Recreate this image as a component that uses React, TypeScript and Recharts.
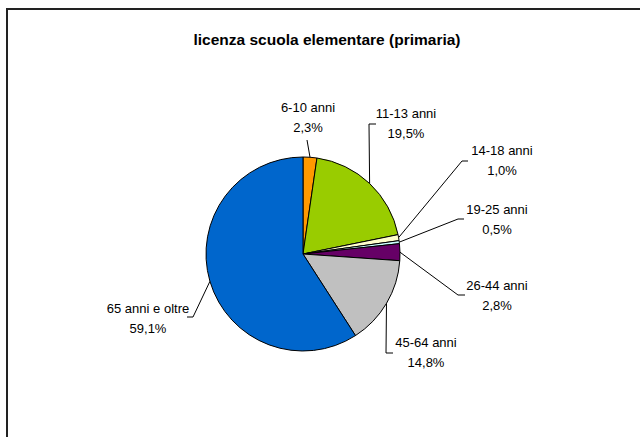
import React from "react";
import { PieChart, Pie, Cell } from "recharts";

const categories = ["6-10 anni", "11-13 anni", "14-18 anni", "19-25 anni", "26-44 anni", "45-64 anni", "65 anni e oltre"];
const shares = [2.3, 19.5, 1.0, 0.5, 2.8, 14.8, 59.1];
const shareLabels = ["2,3%", "19,5%", "1,0%", "0,5%", "2,8%", "14,8%", "59,1%"];
const title = "licenza scuola elementare (primaria)";

const colors = ["#FF9900", "#99CC00", "#FFFFCC", "#CCFFFF", "#660066", "#C0C0C0", "#0066CC"];

// label layout relative to pie centre: text centre (tx, ty) and leader elbow points
const labelLayout = [
  { tx: 5, ty: -147, pts: [[4, -114]] },
  { tx: 103, ty: -141, pts: [[66, -130], [73, -130]] },
  { tx: 199, ty: -104, pts: [[159, -93], [165, -93]] },
  { tx: 194, ty: -45, pts: [[155, -35], [161, -35]] },
  { tx: 194, ty: 31, pts: [[155, 41], [162, 41]] },
  { tx: 123, ty: 88, pts: [[83, 99], [90, 99]] },
  { tx: -155, ty: 54, pts: [[-110, 63], [-116, 63]] },
];

const data = categories.map((name, i) => ({ name, value: shares[i], pct: shareLabels[i] }));

const FONT = "'Liberation Sans', Arial, sans-serif";
const RAD = Math.PI / 180;

const renderLabel = (props: any) => {
  const { cx, cy, midAngle, outerRadius, index } = props;
  const lay = labelLayout[index];
  const ex = cx + outerRadius * Math.cos(-midAngle * RAD);
  const ey = cy + outerRadius * Math.sin(-midAngle * RAD);
  const points = [[ex, ey], ...lay.pts.map(([dx, dy]) => [cx + dx, cy + dy])]
    .map((p) => p.join(","))
    .join(" ");
  const tx = cx + lay.tx;
  const ty = cy + lay.ty;
  return (
    <g key={`lbl-${index}`}>
      <polyline points={points} fill="none" stroke="#000" strokeWidth={1} />
      <text x={tx} y={ty} textAnchor="middle" fontFamily={FONT} fontSize={13} fill="#000">
        <tspan x={tx} dy="0.35em">{categories[index]}</tspan>
        <tspan x={tx} dy={20.5}>{shareLabels[index]}</tspan>
      </text>
    </g>
  );
};

export default function App() {
  return (
    <div style={{ position: "absolute", left: 0, top: 0, width: 640, height: 437, overflow: "hidden", background: "#fff" }}>
      <div
        style={{
          position: "absolute",
          left: 6,
          top: 8,
          width: 700,
          height: 500,
          borderTop: "2px solid #222",
          borderLeft: "2px solid #222",
        }}
      />
      <div
        style={{
          position: "absolute",
          left: 0,
          width: 654,
          top: 30,
          textAlign: "center",
          fontFamily: FONT,
          fontWeight: "bold",
          fontSize: 15.5,
          lineHeight: "20px",
          color: "#000",
        }}
      >
        {title}
      </div>
      <div style={{ position: "absolute", left: 0, top: 0 }}>
        <PieChart width={640} height={437} margin={{ top: 0, right: 0, bottom: 0, left: 0 }}>
          <Pie
            data={data}
            dataKey="value"
            nameKey="name"
            cx={303}
            cy={254}
            outerRadius={97}
            startAngle={90}
            endAngle={-270}
            isAnimationActive={false}
            label={renderLabel}
            labelLine={false}
            stroke="#000"
            strokeWidth={1}
          >
            {data.map((d, i) => (
              <Cell key={d.name} fill={colors[i]} stroke="#000" strokeWidth={1} />
            ))}
          </Pie>
        </PieChart>
      </div>
    </div>
  );
}
